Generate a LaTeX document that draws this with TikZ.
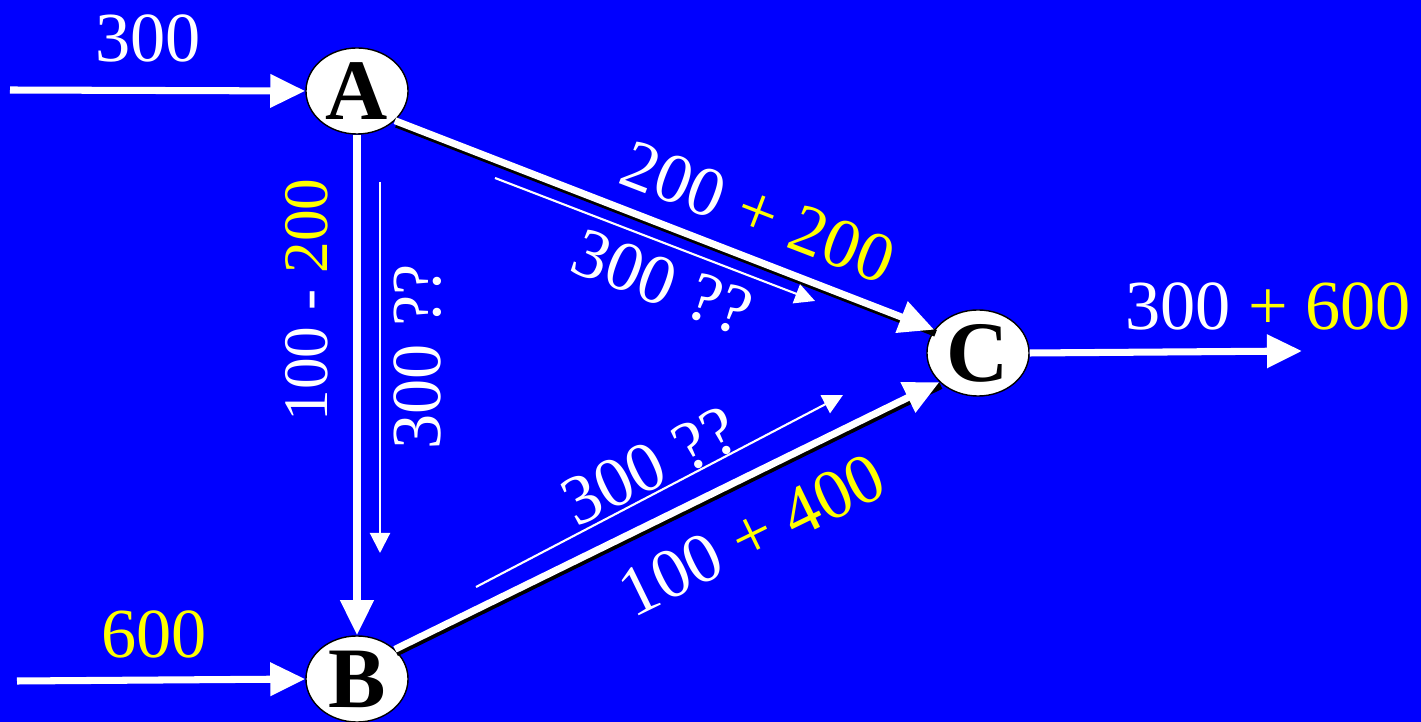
\documentclass[tikz,border=0pt]{standalone}
\usepackage{fontspec}
\setmainfont{Liberation Serif}
\usetikzlibrary{positioning,arrows.meta,shapes.geometric}
\definecolor{slideblue}{HTML}{0000FF}
\definecolor{sumyellow}{HTML}{FFFF00}

\begin{document}
\begin{tikzpicture}[x=0.01cm,y=-0.01cm,
  junction/.style={ellipse,draw=black,thin,fill=white,minimum width=1.02cm,minimum height=0.86cm,inner sep=0pt,font=\fontsize{24.5}{28}\selectfont\bfseries},
  flow/.style={draw=white,line width=2pt,-{Triangle[length=0.35cm,width=0.32cm]}},
  guess/.style={draw=white,line width=0.6pt,-{Triangle[length=0.2cm,width=0.2cm]}},
  castshadow/.style={preaction={draw=black,line width=2pt,-,transform canvas={shift={(0.4pt,-1pt)}}}},
  lbl/.style={text=white,inner sep=0pt,font=\fontsize{20}{24}\selectfont}]
  \useasboundingbox (0,0) rectangle (1421,722);
  \fill[slideblue] (0,0) rectangle (1421,722);

  \node[junction] (A) at (357,91) {A};
  \node[junction] (B) at (357,679) {B};
  \node[junction] (C) at (978,353) {C};

  \coordinate (inA) at (10,90);
  \coordinate (inB) at (17,681);
  \coordinate (outC) at (1302,351);
  \draw[flow] (inA) -- (A.west);
  \draw[flow] (inB) -- (B.west);
  \draw[flow] (C.east) -- (outC);
  \draw[flow] (A) -- (B);
  \draw[flow,castshadow] (A.-38) -- (C.152);
  \draw[flow,castshadow] (B.38) -- (C.217);

  \coordinate (abs) at (380,182);
  \coordinate (abe) at (380,553);
  \coordinate (acs) at (495,178);
  \coordinate (ace) at (815,301);
  \coordinate (bcs) at (476,587);
  \coordinate (bce) at (843,395);
  \draw[guess] (abs) -- (abe);
  \draw[guess] (acs) -- (ace);
  \draw[guess] (bcs) -- (bce);

  \node[lbl] (inAlbl) at (148,38) {300};
  \node[lbl,text=sumyellow] (inBlbl) at (154,634) {600};
  \node[lbl] (outlbl) at (1268,306) {300 \textcolor{sumyellow}{+ 600}};
  \node[lbl,rotate=90,font=\fontsize{18}{22}\selectfont] (ablbl) at (307,300) {100 - \textcolor{sumyellow}{200}};
  \node[lbl,rotate=90] (abguess) at (418,357) {300 ??};
  \node[lbl,rotate=-21] (aclbl) at (758,212) {200 \textcolor{sumyellow}{+ 200}};
  \node[lbl,rotate=-21] (acguess) at (662,282) {300 ??};
  \node[lbl,rotate=26] (bcguess) at (650,466) {300 ??};
  \node[lbl,rotate=26] (bclbl) at (752,535) {100 \textcolor{sumyellow}{+ 400}};
\end{tikzpicture}
\end{document}
